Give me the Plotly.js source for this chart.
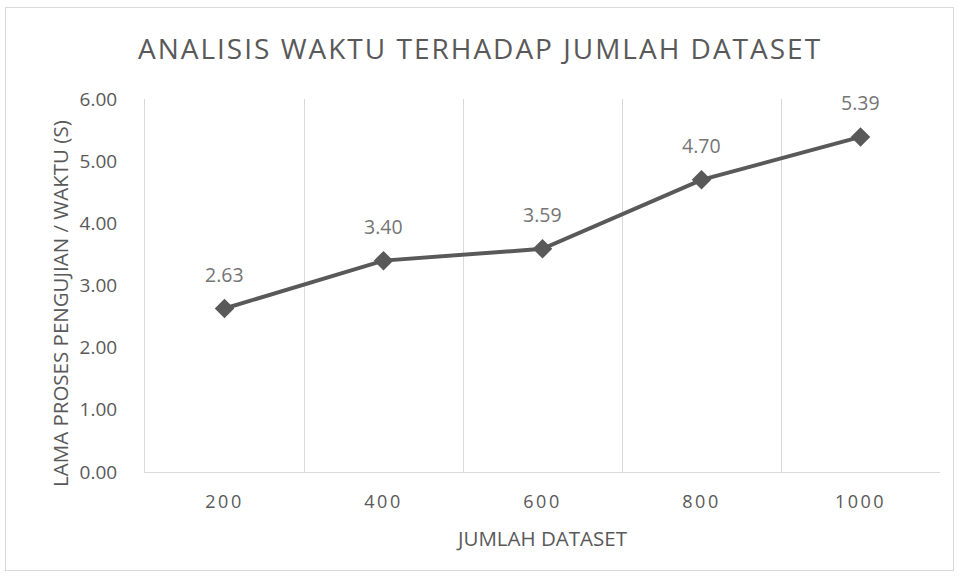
<!DOCTYPE html>
<html>
<head>
<meta charset="utf-8">
<script src="https://cdn.plot.ly/plotly-3.0.1.min.js"></script>
<style>
  html, body { margin: 0; padding: 0; background: #fff; }
  #wrap { position: relative; width: 960px; height: 576px; }
  #chart { width: 960px; height: 576px; }
  #border { position: absolute; left: 5px; top: 7px; width: 947px; height: 562px; border: 1px solid #d9d9d9; pointer-events: none; }
  .gtitle { letter-spacing: 2px; }
  .xtick text { letter-spacing: 2.5px; }
</style>
</head>
<body>
<div id="wrap"><div id="chart"></div><div id="border"></div></div>
<script>
const categories = ["200", "400", "600", "800", "1000"];
const values = [2.63, 3.40, 3.59, 4.70, 5.39];
const yTicks = [0, 1, 2, 3, 4, 5, 6];

const xs = categories.map((c, i) => i);
const boundaries = categories.map((c, i) => i + 0.5);
const FONT = 'Open Sans, sans-serif';

const trace = {
  x: xs, y: values, type: 'scatter', mode: 'lines+markers',
  line: { color: '#595959', width: 4 },
  marker: { symbol: 'diamond', size: 15, color: '#595959' },
  hoverinfo: 'skip', showlegend: false
};
const dummy = { x: boundaries, y: values, xaxis: 'x2', yaxis: 'y', mode: 'none', type: 'scatter', showlegend: false, hoverinfo: 'skip' };

const annotations = values.map((v, i) => ({
  x: xs[i], y: v, xref: 'x', yref: 'y', text: v.toFixed(2), showarrow: false,
  yshift: 34, font: { family: FONT, size: 19.5, color: '#757575' }
}));
annotations.push({
  x: -0.107, y: 0.453, xref: 'paper', yref: 'paper', xanchor: 'center', yanchor: 'middle',
  text: 'LAMA PROSES PENGUJIAN / WAKTU (S)', textangle: -90, showarrow: false,
  font: { family: FONT, size: 20.5, color: '#595959' }
});

const layout = {
  width: 960, height: 576,
  margin: { l: 145, r: 20, t: 99, b: 104 },
  paper_bgcolor: '#ffffff', plot_bgcolor: '#ffffff',
  title: { text: 'ANALISIS WAKTU TERHADAP JUMLAH DATASET', x: 0.5, xanchor: 'center', y: 0.915, yanchor: 'middle',
           font: { family: FONT, size: 28, color: '#595959' } },
  xaxis: {
    range: [-0.5, 4.5], tickmode: 'array', tickvals: xs, ticktext: categories,
    showgrid: false, zeroline: false, showline: true, linecolor: '#d9d9d9', linewidth: 1,
    ticks: '', ticklabelstandoff: 13,
    tickfont: { family: FONT, size: 18, color: '#595959' },
    title: { text: 'JUMLAH DATASET', standoff: 20, font: { family: FONT, size: 20.5, color: '#595959' } }
  },
  xaxis2: {
    overlaying: 'x', range: [-0.5, 4.5], tickmode: 'array', tickvals: boundaries,
    showgrid: true, gridcolor: '#d9d9d9', gridwidth: 1, showticklabels: false, zeroline: false, ticks: ''
  },
  yaxis: {
    range: [0, 6], tickmode: 'array', tickvals: yTicks, tickformat: '.2f',
    showgrid: false, zeroline: false, showline: true, linecolor: '#d9d9d9', linewidth: 1,
    ticks: '', ticklabelstandoff: 23,
    tickfont: { family: FONT, size: 19, color: '#595959' }
  },
  annotations: annotations
};

Plotly.newPlot('chart', [dummy, trace], layout, { displayModeBar: false, staticPlot: true });
</script>
</body>
</html>
